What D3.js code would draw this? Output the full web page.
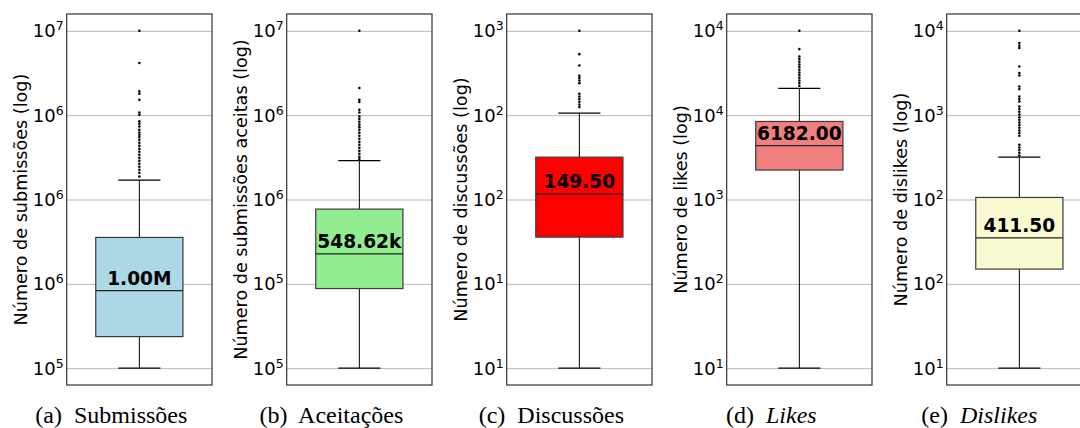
<!DOCTYPE html>
<html>
<head>
<meta charset="utf-8">
<script src="https://cdn.jsdelivr.net/npm/d3@7"></script>
<style>
	body { margin: 0; background: #fff; }
	svg { display: block; }
</style>
</head>
<body>
<svg id="chart" width="1080" height="428"></svg>
<script>
// valores em log10
var letters = ['a', 'b', 'c', 'd', 'e'];
var captions = ['Submissões', 'Aceitações', 'Discussões', 'Likes', 'Dislikes'];
var captionItalic = [false, false, false, true, true];
var ylabels = [
	'Número de submissões (log)',
	'Número de submissões aceitas (log)',
	'Número de discussões (log)',
	'Número de likes (log)',
	'Número de dislikes (log)'
];
var fills = ['#add8e6', '#90ee90', '#ff0000', '#f08080', '#fafad2'];
var boxLabels = ['1.00M', '548.62k', '149.50', '6182.00', '411.50'];

var tickValues = [
	[5, 5.5, 6, 6.5, 7],
	[5, 5.5, 6, 6.5, 7],
	[1, 1.5, 2, 2.5, 3],
	[1, 1.75, 2.5, 3.25, 4],
	[1, 1.75, 2.5, 3.25, 4]
];
// expoentes mostrados nos rótulos (de baixo para cima)
var tickExps = [
	[5, 6, 6, 6, 7],
	[5, 5, 6, 6, 7],
	[1, 1, 2, 2, 3],
	[1, 2, 3, 4, 4],
	[1, 2, 2, 3, 4]
];

// [min, q1, mediana, q3, max]
var stats = [
	[5.0, 5.187, 5.460, 5.775, 6.115],
	[5.0, 5.472, 5.678, 5.943, 6.230],
	[1.0, 1.777, 2.032, 2.251, 2.512],
	[1.0, 2.762, 2.980, 3.194, 3.488],
	[1.0, 1.881, 2.159, 2.518, 2.877]
];

var outliers = [
	[7.0, 6.809, 6.641, 6.627, 6.591, 6.516, 6.502, 6.463, 6.449, 6.433, 6.413, 6.397, 6.384, 6.370,
		6.354, 6.336, 6.318, 6.300, 6.283, 6.265, 6.247, 6.230, 6.212, 6.194, 6.176, 6.159, 6.136],
	[7.0, 6.661, 6.591, 6.578, 6.532, 6.516, 6.492, 6.477, 6.461, 6.445, 6.429, 6.413, 6.396, 6.378,
		6.360, 6.342, 6.325, 6.307, 6.289, 6.271, 6.253, 6.240],
	[3.0, 2.862, 2.795, 2.734, 2.720, 2.706, 2.690, 2.627, 2.611, 2.596, 2.580, 2.563, 2.548],
	[4.0, 3.838, 3.772, 3.749, 3.725, 3.701, 3.678, 3.654, 3.630, 3.607, 3.583, 3.559, 3.536, 3.512],
	[4.0, 3.891, 3.867, 3.847, 3.683, 3.625, 3.603, 3.505, 3.482, 3.416, 3.393, 3.372, 3.327, 3.304,
		3.280, 3.256, 3.232, 3.209, 3.185, 3.162, 3.138, 3.114, 3.091, 3.067, 2.987, 2.963, 2.940,
		2.916, 2.891]
];

var svg = d3.select('#chart');

var step = 220,
	left0 = 66.7,
	pw = 145.3,
	plotTop = 14,
	plotBottom = 385;

letters.forEach(function (letter, i) {

	var tv = tickValues[i];
	var span = tv[tv.length - 1] - tv[0];

	var y = d3.scaleLinear()
		.domain([tv[0] - span * 0.05, tv[tv.length - 1] + span * 0.05])
		.range([plotBottom, plotTop]);

	var x = d3.scaleLinear()
		.domain([0.5, 1.5])
		.range([0, pw]);

	var g = svg.append('g')
		.attr('transform', 'translate(' + (left0 + step * i) + ',0)');

	// grade
	var grid = g.append('g')
		.call(d3.axisLeft(y).tickValues(tv).tickSize(-pw).tickFormat(''));
	grid.select('.domain').remove();
	grid.selectAll('line')
		.attr('stroke', '#b8b8b8')
		.attr('stroke-width', 1);

	// rótulos dos ticks
	tv.forEach(function (t, k) {
		var txt = g.append('text')
			.attr('x', -3)
			.attr('y', y(t) + 6.5)
			.attr('text-anchor', 'end')
			.attr('font-family', 'DejaVu Sans')
			.attr('font-size', 18)
			.attr('fill', '#000');
		txt.append('tspan').text('10');
		txt.append('tspan')
			.attr('dy', -7)
			.attr('font-size', 12.5)
			.text(tickExps[i][k]);
	});

	var s = stats[i];
	var cx = x(1);

	// bigodes
	g.append('line')
		.attr('x1', cx).attr('x2', cx)
		.attr('y1', y(s[0])).attr('y2', y(s[1]))
		.attr('stroke', '#000').attr('stroke-width', 1);
	g.append('line')
		.attr('x1', cx).attr('x2', cx)
		.attr('y1', y(s[3])).attr('y2', y(s[4]))
		.attr('stroke', '#000').attr('stroke-width', 1);
	[s[0], s[4]].forEach(function (v) {
		g.append('line')
			.attr('x1', x(1 - 0.145)).attr('x2', x(1 + 0.145))
			.attr('y1', y(v)).attr('y2', y(v))
			.attr('stroke', '#000').attr('stroke-width', 1.2);
	});

	// caixa
	g.append('rect')
		.attr('x', x(1 - 0.3))
		.attr('y', y(s[3]))
		.attr('width', x(1.3) - x(0.7))
		.attr('height', y(s[1]) - y(s[3]))
		.attr('fill', fills[i])
		.attr('stroke', '#3a3a3a')
		.attr('stroke-width', 1.2);

	g.append('line')
		.attr('x1', x(0.7)).attr('x2', x(1.3))
		.attr('y1', y(s[2])).attr('y2', y(s[2]))
		.attr('stroke', '#222').attr('stroke-width', 1.2);

	// outliers
	g.selectAll('.flier')
		.data(outliers[i])
		.enter()
		.append('circle')
		.attr('class', 'flier')
		.attr('cx', cx)
		.attr('cy', function (d) { return y(d); })
		.attr('r', 1.3)
		.attr('fill', '#000');

	// valor em cima da mediana
	g.append('text')
		.attr('x', cx)
		.attr('y', y(s[2]) - 6)
		.attr('text-anchor', 'middle')
		.attr('font-family', 'DejaVu Sans')
		.attr('font-weight', 'bold')
		.attr('font-size', 18.6)
		.attr('fill', '#000')
		.text(boxLabels[i]);

	// moldura
	g.append('rect')
		.attr('x', 0)
		.attr('y', plotTop)
		.attr('width', pw)
		.attr('height', plotBottom - plotTop)
		.attr('fill', 'none')
		.attr('stroke', '#333')
		.attr('stroke-width', 1.2);

	// rótulo do eixo y
	g.append('text')
		.attr('transform', 'rotate(-90)')
		.attr('x', -(plotTop + plotBottom) / 2)
		.attr('y', -46)
		.attr('dy', '0.35em')
		.attr('text-anchor', 'middle')
		.attr('font-family', 'DejaVu Sans')
		.attr('font-size', 17.6)
		.attr('fill', '#000')
		.text(ylabels[i]);

	// legenda da subfigura (a ultima fica um pouco mais a esquerda)
	var capShift = i == 4 ? -12 : 0;
	var cap = g.append('text')
		.attr('x', pw / 2 - 28 + capShift)
		.attr('y', 423)
		.attr('text-anchor', 'middle')
		.attr('font-family', 'Liberation Serif')
		.attr('font-size', 24)
		.attr('fill', '#000');
	cap.append('tspan').text('(' + letter + ')\u00a0 ');
	cap.append('tspan')
		.attr('font-style', captionItalic[i] ? 'italic' : 'normal')
		.text(captions[i]);
});
</script>
</body>
</html>
